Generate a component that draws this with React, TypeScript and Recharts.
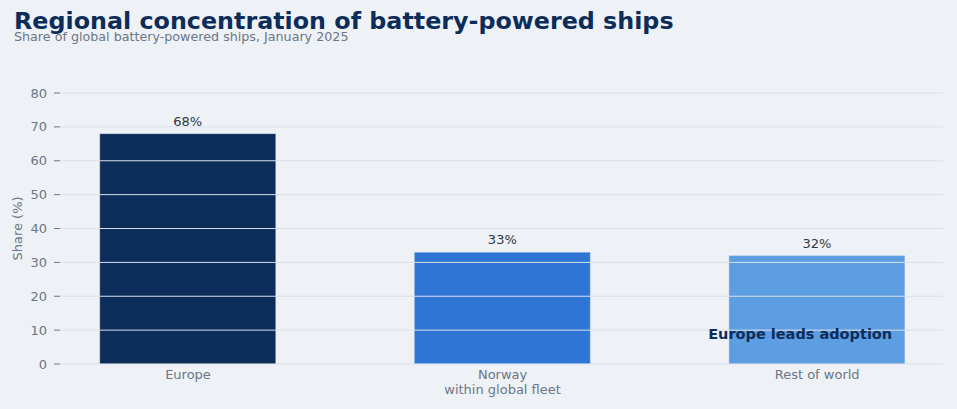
import React from 'react';
import { BarChart, Bar, XAxis, YAxis, Cell, LabelList, ReferenceLine, ReferenceDot, Label } from 'recharts';

const categories = ['Europe', 'Norway\nwithin global fleet', 'Rest of world'];
const shares = [68, 33, 32];
const barColors = ['#0c2d5a', '#2f75d5', '#5d9de2'];
const yTicks = [0, 10, 20, 30, 40, 50, 60, 70, 80];
const xPositions = [0, 1, 2];
const annotationText = 'Europe leads adoption';
const annotationPos = { x: 1.946, y: 8.85 };

const data = categories.map((c, i) => ({ pos: xPositions[i], name: c, share: shares[i] }));

const FONT = 'DejaVu Sans, sans-serif';
const GRAY = '#6b7785';
const GRID = '#d9e0ea';

const XTick = (props: any) => {
  const { x, y, payload } = props;
  const idx = xPositions.indexOf(payload.value);
  const lines = (categories[idx] ?? '').split('\n');
  return (
    <text x={x} y={y} textAnchor="middle" fill={GRAY} fontSize={13} fontFamily={FONT}>
      {lines.map((l, i) => (
        <tspan key={i} x={x} dy={i === 0 ? '0.71em' : 15}>{l}</tspan>
      ))}
    </text>
  );
};

const YLabel = (props: any) => {
  const { viewBox } = props;
  const cy = viewBox.y + viewBox.height / 2;
  return (
    <text x={17} y={cy} transform={`rotate(-90, 17, ${cy})`} textAnchor="middle" dominantBaseline="central" fill={GRAY} fontSize={13} fontFamily={FONT}>
      Share (%)
    </text>
  );
};

export default function App() {
  return (
    <div style={{ position: 'fixed', left: 0, top: 0, width: 957, height: 409, background: '#eef1f6', fontFamily: FONT }}>
      <div style={{ position: 'absolute', left: 14, top: 5.5, fontSize: 23.8, fontWeight: 'bold', color: '#0c2d5a', whiteSpace: 'nowrap', lineHeight: '30px' }}>
        Regional concentration of battery-powered ships
      </div>
      <div style={{ position: 'absolute', left: 14, top: 29, fontSize: 12.7, color: GRAY, whiteSpace: 'nowrap', lineHeight: '16px' }}>
        Share of global battery-powered ships, January 2025
      </div>
      <BarChart width={957} height={409} data={data} margin={{ top: 93, right: 14, bottom: 5, left: 0 }} style={{ position: 'absolute', left: 0, top: 0 }}>
        <XAxis
          dataKey="pos"
          type="number"
          domain={[-0.407, 2.4]}
          ticks={xPositions}
          axisLine={false}
          tickLine={false}
          tickSize={0}
          tickMargin={6}
          height={40}
          tick={<XTick />}
          interval={0}
        />
        <YAxis
          domain={[0, 80]}
          ticks={yTicks}
          width={60}
          axisLine={false}
          tickSize={6}
          tickMargin={7}
          tickLine={{ stroke: GRAY }}
          tick={{ fill: GRAY, fontSize: 13, fontFamily: FONT }}
        >
          <Label content={<YLabel />} />
        </YAxis>
        <Bar dataKey="share" barSize={176} isAnimationActive={false} stroke="#ffffff" strokeOpacity={0.3} strokeWidth={1}>
          {data.map((d, i) => (
            <Cell key={i} fill={barColors[i]} />
          ))}
          <LabelList dataKey="share" position="top" offset={8} formatter={(v: any) => `${v}%`} fill="#2d3748" fontSize={13} fontFamily={FONT} />
        </Bar>
        {yTicks.map((t) => (
          <ReferenceLine key={t} y={t} stroke={GRID} strokeWidth={1} />
        ))}
        <ReferenceDot
          x={annotationPos.x}
          y={annotationPos.y}
          r={0}
          fill="none"
          stroke="none"
          label={{ value: annotationText, position: 'center', fill: '#0c2d5a', fontSize: 14.5, fontWeight: 'bold', fontFamily: FONT }}
        />
      </BarChart>
    </div>
  );
}
